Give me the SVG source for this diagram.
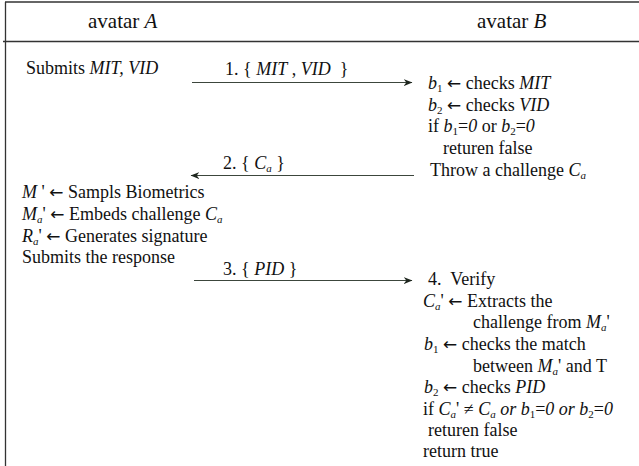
<svg xmlns="http://www.w3.org/2000/svg" width="639" height="466" viewBox="0 0 639 466">
<style>
.t{font-family:"Liberation Serif","Times New Roman",serif;font-size:18px;fill:#111}
.h{font-family:"Liberation Serif","Times New Roman",serif;font-size:21px;fill:#111}
.i{font-style:italic}
.s{font-size:11px}
.ar{font-family:"DejaVu Sans",sans-serif;font-size:17px}
.frame{stroke:#333;stroke-width:1.3;fill:none}
.conn{stroke:#3c463c;stroke-width:1.2;fill:none}
</style>
<defs>
<marker id="ah" viewBox="0 0 10 8" refX="9.5" refY="4" markerWidth="9" markerHeight="7" markerUnits="userSpaceOnUse" orient="auto">
<path d="M0,0 L10,4 L0,8 L3,4 z" fill="#1e261e"/>
</marker>
</defs>
<rect width="639" height="466" fill="#fff"/>
<g id="frame">
<line class="frame" x1="5" y1="2" x2="639" y2="2"/>
<line class="frame" x1="3" y1="41.5" x2="639" y2="41.5" stroke-width="1.6"/>
<line class="frame" x1="5.5" y1="2" x2="5.5" y2="466" stroke-width="1.6"/>
</g>
<g id="header-a"><text class="h" x="88" y="28">avatar <tspan class="i">A</tspan></text></g>
<g id="header-b"><text class="h" x="477" y="28">avatar <tspan class="i">B</tspan></text></g>
<g id="connectors">
<line class="conn" x1="192" y1="82.5" x2="412" y2="82.5" marker-end="url(#ah)"/>
<line class="conn" x1="414" y1="175.5" x2="191" y2="175.5" marker-end="url(#ah)"/>
<line class="conn" x1="194" y1="280.5" x2="412" y2="280.5" marker-end="url(#ah)"/>
<text class="t" x="225" y="75" xml:space="preserve">1. { <tspan class="i">MIT</tspan> , <tspan class="i">VID</tspan>  }</text>
<text class="t" x="223" y="169">2. { <tspan class="i">C</tspan><tspan class="s i" dy="3">a</tspan><tspan dy="-3"> }</tspan></text>
<text class="t" x="223" y="275">3. { <tspan class="i">PID</tspan> }</text>
</g>
<g id="node-a1">
<text class="t" x="26" y="74">Submits <tspan class="i">MIT, VID</tspan></text>
</g>
<g id="node-b1">
<text class="t" x="428" y="89"><tspan class="i">b</tspan><tspan class="s" dy="3">1</tspan><tspan dy="-3"> </tspan><tspan class="ar">←</tspan> checks <tspan class="i">MIT</tspan></text>
<text class="t" x="428" y="111"><tspan class="i">b</tspan><tspan class="s" dy="3">2</tspan><tspan dy="-3"> </tspan><tspan class="ar">←</tspan> checks <tspan class="i">VID</tspan></text>
<text class="t" x="428" y="132">if <tspan class="i">b</tspan><tspan class="s" dy="3">1</tspan><tspan dy="-3">=</tspan><tspan class="i">0</tspan> or <tspan class="i">b</tspan><tspan class="s" dy="3">2</tspan><tspan dy="-3">=</tspan><tspan class="i">0</tspan></text>
<text class="t" x="443" y="154">returen false</text>
<text class="t" x="430" y="176">Throw a challenge <tspan class="i">C</tspan><tspan class="s i" dy="3">a</tspan></text>
</g>
<g id="node-a2">
<text class="t" x="22" y="198"><tspan class="i">M</tspan> ' <tspan class="ar">←</tspan> Sampls Biometrics</text>
<text class="t" x="22" y="220"><tspan class="i">M</tspan><tspan class="s i" dy="3">a</tspan><tspan dy="-3">' </tspan><tspan class="ar">←</tspan> Embeds challenge <tspan class="i">C</tspan><tspan class="s i" dy="3">a</tspan></text>
<text class="t" x="22" y="242"><tspan class="i">R</tspan><tspan class="s i" dy="3">a</tspan><tspan dy="-3">'  </tspan><tspan class="ar">←</tspan> Generates signature</text>
<text class="t" x="22" y="263">Submits the response</text>
</g>
<g id="node-b2">
<text class="t" x="428" y="285" xml:space="preserve">4.  Verify</text>
<text class="t" x="423" y="307"><tspan class="i">C</tspan><tspan class="s i" dy="3">a</tspan><tspan dy="-3">' </tspan><tspan class="ar">←</tspan> Extracts the</text>
<text class="t" x="473" y="328">challenge from <tspan class="i">M</tspan><tspan class="s i" dy="3">a</tspan><tspan dy="-3">'</tspan></text>
<text class="t" x="424" y="350"><tspan class="i">b</tspan><tspan class="s" dy="3">1</tspan><tspan dy="-3"> </tspan><tspan class="ar">←</tspan> checks the match</text>
<text class="t" x="473" y="372">between <tspan class="i">M</tspan><tspan class="s i" dy="3">a</tspan><tspan dy="-3">' and T</tspan></text>
<text class="t" x="424" y="393"><tspan class="i">b</tspan><tspan class="s" dy="3">2</tspan><tspan dy="-3"> </tspan><tspan class="ar">←</tspan> checks <tspan class="i">PID</tspan></text>
<text class="t" x="423" y="415">if <tspan class="i">C</tspan><tspan class="s i" dy="3">a</tspan><tspan dy="-3">' ≠ </tspan><tspan class="i">C</tspan><tspan class="s i" dy="3">a</tspan><tspan class="i" dy="-3"> or b</tspan><tspan class="s" dy="3">1</tspan><tspan dy="-3">=</tspan><tspan class="i">0 or b</tspan><tspan class="s" dy="3">2</tspan><tspan dy="-3">=</tspan><tspan class="i">0</tspan></text>
<text class="t" x="428" y="436">returen false</text>
<text class="t" x="423" y="457">return true</text>
</g>
</svg>
